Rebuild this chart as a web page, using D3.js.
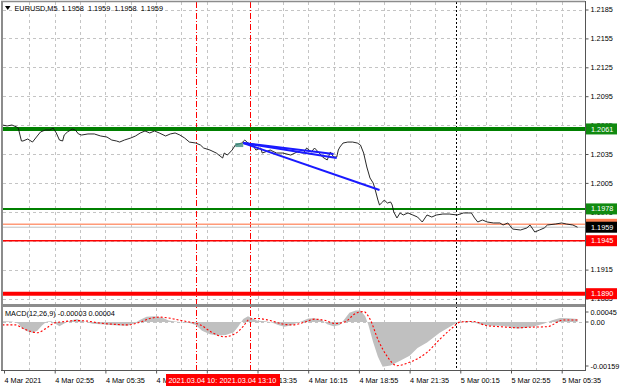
<!DOCTYPE html>
<html>
<head>
<meta charset="utf-8">
<script src="https://cdn.jsdelivr.net/npm/d3@7"></script>
<style>
  body { margin: 0; background: #fff; }
  svg { display: block; font-family: "Liberation Sans", Arial, sans-serif; }
</style>
</head>
<body>
<div id="chart"></div>
<script>
// close prices, minutes counted from 4 Mar 2021 00:00
const price_minutes = [10, 25, 40, 55, 60, 70, 75, 90, 95, 105, 120, 130, 145, 160, 170, 180, 190, 200, 205, 215,
  230, 240, 250, 260, 280, 300, 320, 340, 355, 370, 380, 395, 415, 430, 445, 460, 475, 490, 505, 525,
  540, 555, 570, 585, 600, 620, 635, 645, 665, 685, 705, 710, 720, 735, 745, 765, 775, 785, 800, 810,
  825, 830, 855, 875, 895, 920, 940, 960, 970, 985, 995, 1010, 1020, 1035, 1045, 1055, 1065, 1070, 1075, 1085,
  1100, 1115, 1130, 1140, 1150, 1160, 1170, 1180, 1185, 1195, 1200, 1210, 1215, 1225, 1235, 1240, 1245, 1255, 1265, 1275,
  1290, 1305, 1320, 1335, 1350, 1365, 1380, 1400, 1420, 1445, 1465, 1480, 1490, 1500, 1510, 1525, 1540, 1560, 1580, 1590,
  1605, 1620, 1645, 1665, 1675, 1690, 1705, 1720, 1730, 1755, 1775, 1790, 1810, 1825];
const price_values = [1.20651, 1.20641, 1.20651, 1.2063, 1.2062, 1.20485, 1.20485, 1.20506, 1.20495, 1.20474, 1.20537, 1.20578, 1.20599, 1.20599, 1.2062, 1.20568, 1.20495, 1.20485, 1.20547, 1.20578,
  1.20609, 1.20599, 1.20558, 1.20547, 1.20558, 1.20558, 1.20537, 1.20526, 1.20495, 1.20485, 1.20474, 1.20495, 1.20516, 1.20537, 1.20568, 1.20589, 1.20568, 1.20589, 1.20568, 1.20537,
  1.20558, 1.20568, 1.20547, 1.20516, 1.20474, 1.20464, 1.20443, 1.20412, 1.20391, 1.2036, 1.20308, 1.2036, 1.20339, 1.20391, 1.20443, 1.20464, 1.20495, 1.20464, 1.20443, 1.20391,
  1.20412, 1.2036, 1.20391, 1.2036, 1.2036, 1.20339, 1.20371, 1.2036, 1.20412, 1.20371, 1.20412, 1.2036, 1.20319, 1.20288, 1.20371, 1.20319, 1.20319, 1.20391, 1.20422, 1.20464,
  1.20474, 1.20474, 1.20464, 1.20443, 1.2036, 1.20215, 1.20101, 1.20049, 1.19997, 1.19872, 1.19821, 1.19852, 1.19872, 1.19841, 1.19852, 1.19821, 1.19748, 1.19686, 1.19738, 1.19717,
  1.19738, 1.19717, 1.19696, 1.19644, 1.19717, 1.19696, 1.19717, 1.19727, 1.19727, 1.19717, 1.19738, 1.19738, 1.19738, 1.19686, 1.19644, 1.19665, 1.19644, 1.19634, 1.19634, 1.19613,
  1.19634, 1.19571, 1.19561, 1.19582, 1.19613, 1.1954, 1.19561, 1.19582, 1.19613, 1.19623, 1.19634, 1.19623, 1.19613, 1.1959];

const hist_minutes = [10, 40, 60, 70, 90, 105, 120, 135, 150, 165, 180, 190, 205, 225, 245, 265, 295, 320, 350, 380,
  405, 425, 445, 465, 490, 515, 535, 555, 575, 600, 620, 640, 665, 690, 715, 740, 755, 770, 785, 800,
  815, 840, 860, 880, 900, 920, 935, 955, 975, 995, 1020, 1035, 1055, 1075, 1090, 1105, 1125, 1140, 1155, 1165,
  1180, 1195, 1210, 1235, 1265, 1295, 1320, 1350, 1390, 1425, 1445, 1470, 1490, 1515, 1550, 1580, 1610, 1635, 1660, 1690,
  1720, 1745, 1770, 1795, 1825];
const hist_values = [0.00003, 0.00002, -0.00005, -0.0002, -0.00033, -0.00037, -0.0003, -0.00012, 0.00002, 0.00003, -0.00008, -0.00015, -0.00005, 0.00005, 0.0001, 0.00003, -0.00006, -0.00008, -0.0001, -0.00012,
  -0.00013, -0.00005, 0.00008, 0.00018, 0.0002, 0.00015, 0.00005, 0.00002, -0.00001, -0.00003, -0.0001, -0.0003, -0.00042, -0.00047, -0.00045, -0.00035, -0.00015, 0.0001, 0.0002, 0.00012,
  0.00004, 0.00003, -0.00002, -0.0001, -0.00016, -0.00012, -0.00005, 0.00003, 0.00012, 0.00013, 0.00005, -0.00008, -0.00015, -0.0001, 0.0001, 0.00032, 0.0004, 0.0004, 0.0002, -0.0001,
  -0.0007, -0.0012, -0.00155, -0.0015, -0.00134, -0.00117, -0.0009, -0.00071, -0.00037, -0.00015, -0.00002, 0.00003, 0.00003, -0.00008, -0.00013, -0.00013, -0.00016, -0.00023, -0.0002, -0.00015,
  -0.00005, 0.00006, 0.00014, 0.00013, 0.0001];

const signal_minutes = [10, 50, 80, 120, 150, 175, 210, 240, 270, 320, 365, 405, 445, 475, 505, 540, 570, 600, 635, 670,
  710, 745, 770, 790, 815, 855, 895, 925, 965, 995, 1030, 1060, 1090, 1125, 1150, 1170, 1195, 1225, 1255, 1295,
  1350, 1390, 1430, 1455, 1495, 1540, 1580, 1635, 1675, 1730, 1780, 1825];
const signal_values = [-0.0001, -0.0001, -0.00025, -0.00037, -0.0002, -0.00003, 0.00002, 0.00005, 0.00004, -0.00004, -0.00008, -0.0001, 0.0, 0.00012, 0.00017, 0.00013, 0.00006, 0.0, -0.0001, -0.00035,
  -0.00051, -0.0004, -0.00015, 0.0001, 0.00012, 0.00005, -0.00007, -0.0001, 0.0, 0.0001, 0.00005, -0.00005, 0.0, 0.0003, 0.00036, 0.0001, -0.0006, -0.0012, -0.00151, -0.00139,
  -0.00105, -0.0006, -0.0002, 0.0, 0.00002, -0.00013, -0.00016, -0.0002, -0.00018, -0.00016, 0.00007, 0.00007];

const price_ticks = [1.2185, 1.2155, 1.2125, 1.2095, 1.2065, 1.2035, 1.2005, 1.1975, 1.1945, 1.1915, 1.1885];
const macd_ticks = [0.00045, 0.0, -0.00159];
const macd_tick_labels = ["0.00045", "0.00", "-0.00159"];
const time_tick_minutes = [15, 175, 335, 495, 655, 815, 975, 1135, 1295, 1455, 1615, 1775];
const time_tick_labels = ["4 Mar 2021", "4 Mar 02:55", "4 Mar 05:35", "4 Mar 08:15", "4 Mar 10:55", "4 Mar 13:35",
  "4 Mar 16:15", "4 Mar 18:55", "4 Mar 21:35", "5 Mar 00:15", "5 Mar 02:55", "5 Mar 05:35"];

const green_levels = [1.2061, 1.1978];
const red_levels = [1.1945, 1.1890];
const ask_price = 1.1962;
const bid_price = 1.1959;

const marker_minutes = [620, 790];
const marker_labels = ["2021.03.04 10:20", "2021.03.04 13:10"];
const day_separator_minute = 1440;

// trend lines: [start minute, start price, end minute, end price]
const trend_lines = [
  [770, 1.20464, 1065, 1.20308],
  [770, 1.20464, 1055, 1.2035],
  [770, 1.20464, 1200, 1.19976],
];
const teal_box = [745, 770, 1.20464, 1.20422];

const symbol_label = "EURUSD,M5";
const ohlc = [1.1958, 1.1959, 1.1958, 1.1959];
const macd_label = "MACD(12,26,9) -0.00003 0.00004";

const width = 620, height = 388;
const plot_left = 3, plot_right = 585;
const main_top = 2, main_bottom = 304;
const macd_top = 307, macd_bottom = 370;
const font_size = 7.3;

const svg = d3.select("#chart").append("svg").attr("width", width).attr("height", height);

const x = d3.scaleLinear().domain([15, 1775]).range([4, 561.7]);
const y = d3.scaleLinear().domain([1.2185, 1.1885]).range([9.5, 298.5]);
const y_macd = d3.scaleLinear().domain([0.00045, -0.00159]).range([309, 368]);

function drawGrid() {
  const g = svg.append("g");
  const grid_minutes = d3.range(95, 1848, 80);
  g.selectAll(".vgrid")
    .data(grid_minutes)
    .join("line")
    .attr("x1", (d) => Math.round(x(d)) + 0.5)
    .attr("x2", (d) => Math.round(x(d)) + 0.5)
    .attr("y1", main_top)
    .attr("y2", macd_bottom)
    .attr("stroke", "#c4c4c4")
    .attr("stroke-dasharray", "3,3");
  g.selectAll(".hgrid")
    .data(price_ticks)
    .join("line")
    .attr("x1", plot_left)
    .attr("x2", plot_right)
    .attr("y1", (d) => Math.round(y(d)) + 0.5)
    .attr("y2", (d) => Math.round(y(d)) + 0.5)
    .attr("stroke", "#c4c4c4")
    .attr("stroke-dasharray", "3,3");
  g.append("line")
    .attr("x1", plot_left)
    .attr("x2", plot_right)
    .attr("y1", Math.round(y_macd(0)) + 0.5)
    .attr("y2", Math.round(y_macd(0)) + 0.5)
    .attr("stroke", "#c4c4c4")
    .attr("stroke-dasharray", "3,3");
}

function drawVerticalMarkers() {
  svg
    .append("line")
    .attr("x1", Math.round(x(day_separator_minute)) + 0.5)
    .attr("x2", Math.round(x(day_separator_minute)) + 0.5)
    .attr("y1", main_top)
    .attr("y2", macd_bottom)
    .attr("stroke", "#000")
    .attr("stroke-dasharray", "2,2");
  svg
    .selectAll(".marker")
    .data(marker_minutes)
    .join("line")
    .attr("x1", (d) => Math.round(x(d)) + 0.5)
    .attr("x2", (d) => Math.round(x(d)) + 0.5)
    .attr("y1", main_top)
    .attr("y2", macd_bottom)
    .attr("stroke", "#ff0000")
    .attr("stroke-dasharray", "6,2,1,2");
}

function drawMainPanel() {
  svg
    .append("clipPath")
    .attr("id", "main_clip")
    .append("rect")
    .attr("x", plot_left)
    .attr("y", main_top)
    .attr("width", plot_right - plot_left)
    .attr("height", main_bottom - main_top);
  const g = svg.append("g").attr("clip-path", "url(#main_clip)");

  const levelLine = (value, color, w) =>
    g.append("line")
      .attr("x1", plot_left)
      .attr("x2", plot_right)
      .attr("y1", y(value))
      .attr("y2", y(value))
      .attr("stroke", color)
      .attr("stroke-width", w);

  levelLine(bid_price, "#c0c0c0", 1);
  levelLine(ask_price, "#ff9a78", 1.5);
  levelLine(green_levels[0], "#008000", 4);
  levelLine(green_levels[1], "#008000", 2);
  levelLine(red_levels[0], "#ff0000", 1.5);
  levelLine(red_levels[1], "#ff0000", 4);

  const data = price_minutes.map((m, i) => [m, price_values[i]]);
  g.append("path")
    .datum(data)
    .attr("fill", "none")
    .attr("stroke", "#111")
    .attr("stroke-width", 0.9)
    .attr("d", d3.line().x((d) => x(d[0])).y((d) => y(d[1])));

  g.append("rect")
    .attr("x", x(teal_box[0]))
    .attr("y", y(teal_box[2]))
    .attr("width", x(teal_box[1]) - x(teal_box[0]))
    .attr("height", y(teal_box[3]) - y(teal_box[2]))
    .attr("fill", "#3f8f80")
    .attr("opacity", 0.8);

  g.selectAll(".trend")
    .data(trend_lines)
    .join("line")
    .attr("x1", (d) => x(d[0]))
    .attr("y1", (d) => y(d[1]))
    .attr("x2", (d) => x(d[2]))
    .attr("y2", (d) => y(d[3]))
    .attr("stroke", "#1a1aff")
    .attr("stroke-width", 2);
}

function drawMacdPanel() {
  svg
    .append("clipPath")
    .attr("id", "macd_clip")
    .append("rect")
    .attr("x", plot_left)
    .attr("y", macd_top)
    .attr("width", plot_right - plot_left)
    .attr("height", macd_bottom - macd_top);
  const g = svg.append("g").attr("clip-path", "url(#macd_clip)");

  const hist = hist_minutes.map((m, i) => [m, hist_values[i]]);
  g.append("path")
    .datum(hist)
    .attr("fill", "#c0c0c0")
    .attr("d", d3.area().x((d) => x(d[0])).y0(y_macd(0)).y1((d) => y_macd(d[1])));

  const signal = signal_minutes.map((m, i) => [m, signal_values[i]]);
  g.append("path")
    .datum(signal)
    .attr("fill", "none")
    .attr("stroke", "#ff0000")
    .attr("stroke-width", 1.1)
    .attr("stroke-dasharray", "2,2")
    .attr("d", d3.line().curve(d3.curveMonotoneX).x((d) => x(d[0])).y((d) => y_macd(d[1])));

  svg
    .append("text")
    .attr("x", 5)
    .attr("y", 316)
    .attr("font-size", font_size)
    .text(macd_label);
}

function drawFrame() {
  svg.append("rect")
    .attr("x", plot_left)
    .attr("y", main_bottom)
    .attr("width", plot_right - plot_left)
    .attr("height", 3)
    .attr("fill", "#8c8c8c");
  svg.append("line")
    .attr("x1", 2).attr("x2", 2).attr("y1", 1).attr("y2", macd_bottom)
    .attr("stroke", "#8c8c8c").attr("stroke-width", 2);
  svg.append("line")
    .attr("x1", 1).attr("x2", plot_right).attr("y1", 1.5).attr("y2", 1.5)
    .attr("stroke", "#8c8c8c").attr("stroke-width", 1.5);
  svg.append("line")
    .attr("x1", plot_right + 0.5).attr("x2", plot_right + 0.5).attr("y1", 1).attr("y2", macd_bottom + 1)
    .attr("stroke", "#555");
  svg.append("line")
    .attr("x1", 1).attr("x2", plot_right + 1).attr("y1", macd_bottom + 0.5).attr("y2", macd_bottom + 0.5)
    .attr("stroke", "#555");
}

function drawPriceAxis() {
  const axis = svg
    .append("g")
    .attr("transform", `translate(${plot_right + 0.5},0)`)
    .call(d3.axisRight(y).tickValues(price_ticks).tickFormat(d3.format(".4f")).tickSize(3));
  axis.select(".domain").remove();
  axis.selectAll("text").attr("font-size", font_size).attr("fill", "#000").attr("x", 5);
  axis.selectAll("line").attr("stroke", "#555");

  const box = (value, color) => {
    const g = svg.append("g").attr("transform", `translate(${plot_right + 1},${y(value)})`);
    g.append("rect").attr("x", 0).attr("y", -5.5).attr("width", 31).attr("height", 11).attr("fill", color);
    g.append("text")
      .attr("x", 5)
      .attr("dy", "0.35em")
      .attr("font-size", font_size)
      .attr("fill", "#fff")
      .text(d3.format(".4f")(value));
  };
  box(green_levels[0], "#108a10");
  box(green_levels[1], "#108a10");
  box(ask_price, "#ff7f50");
  box(bid_price, "#000");
  box(red_levels[0], "#ff0000");
  box(red_levels[1], "#ff0000");

  const macd_axis = svg.append("g").attr("transform", `translate(${plot_right + 0.5},0)`);
  macd_axis
    .selectAll("text")
    .data(macd_ticks)
    .join("text")
    .attr("x", 5)
    .attr("y", (d, i) => y_macd(d) + [3, 0, -2][i])
    .attr("dy", "0.35em")
    .attr("font-size", font_size)
    .text((d, i) => macd_tick_labels[i]);
  macd_axis
    .selectAll("line")
    .data(macd_ticks)
    .join("line")
    .attr("x1", 0).attr("x2", 3)
    .attr("y1", (d, i) => y_macd(d) + [3, 0, -2][i])
    .attr("y2", (d, i) => y_macd(d) + [3, 0, -2][i])
    .attr("stroke", "#555");
}

function drawTimeAxis() {
  const axis = svg
    .append("g")
    .attr("transform", `translate(0,${macd_bottom + 0.5})`)
    .call(
      d3.axisBottom(x)
        .tickValues(time_tick_minutes)
        .tickFormat((d, i) => time_tick_labels[i])
        .tickSize(3)
    );
  axis.select(".domain").remove();
  axis.selectAll("line").attr("stroke", "#555");
  axis.selectAll("text")
    .attr("font-size", font_size)
    .attr("fill", "#000")
    .attr("text-anchor", "start")
    .attr("x", 0)
    .attr("y", 7);

  // red time labels of the two vertical lines, the later one drawn on top
  const g = svg.selectAll(".marker_label").data(marker_minutes).join("g")
    .attr("transform", (d, i) => `translate(${Math.round(x(d)) - [30, 33][i]},374)`);
  g.append("rect").attr("width", 63).attr("height", 12).attr("fill", "#ff0000");
  g.append("text")
    .attr("x", 2.5)
    .attr("y", 6)
    .attr("dy", "0.35em")
    .attr("font-size", font_size)
    .attr("fill", "#fff")
    .text((d, i) => marker_labels[i]);
}

function drawTitle() {
  svg.append("path").attr("d", "M5,6 L10.5,6 L7.75,10 Z").attr("fill", "#000");
  svg.append("text")
    .attr("x", 14.5)
    .attr("y", 11)
    .attr("font-size", font_size)
    .style("white-space", "pre")
    .text(symbol_label + "  " + ohlc.map((d) => d3.format(".4f")(d)).join("  "));
}

drawGrid();
drawVerticalMarkers();
drawMainPanel();
drawMacdPanel();
drawFrame();
drawPriceAxis();
drawTimeAxis();
drawTitle();
</script>
</body>
</html>
